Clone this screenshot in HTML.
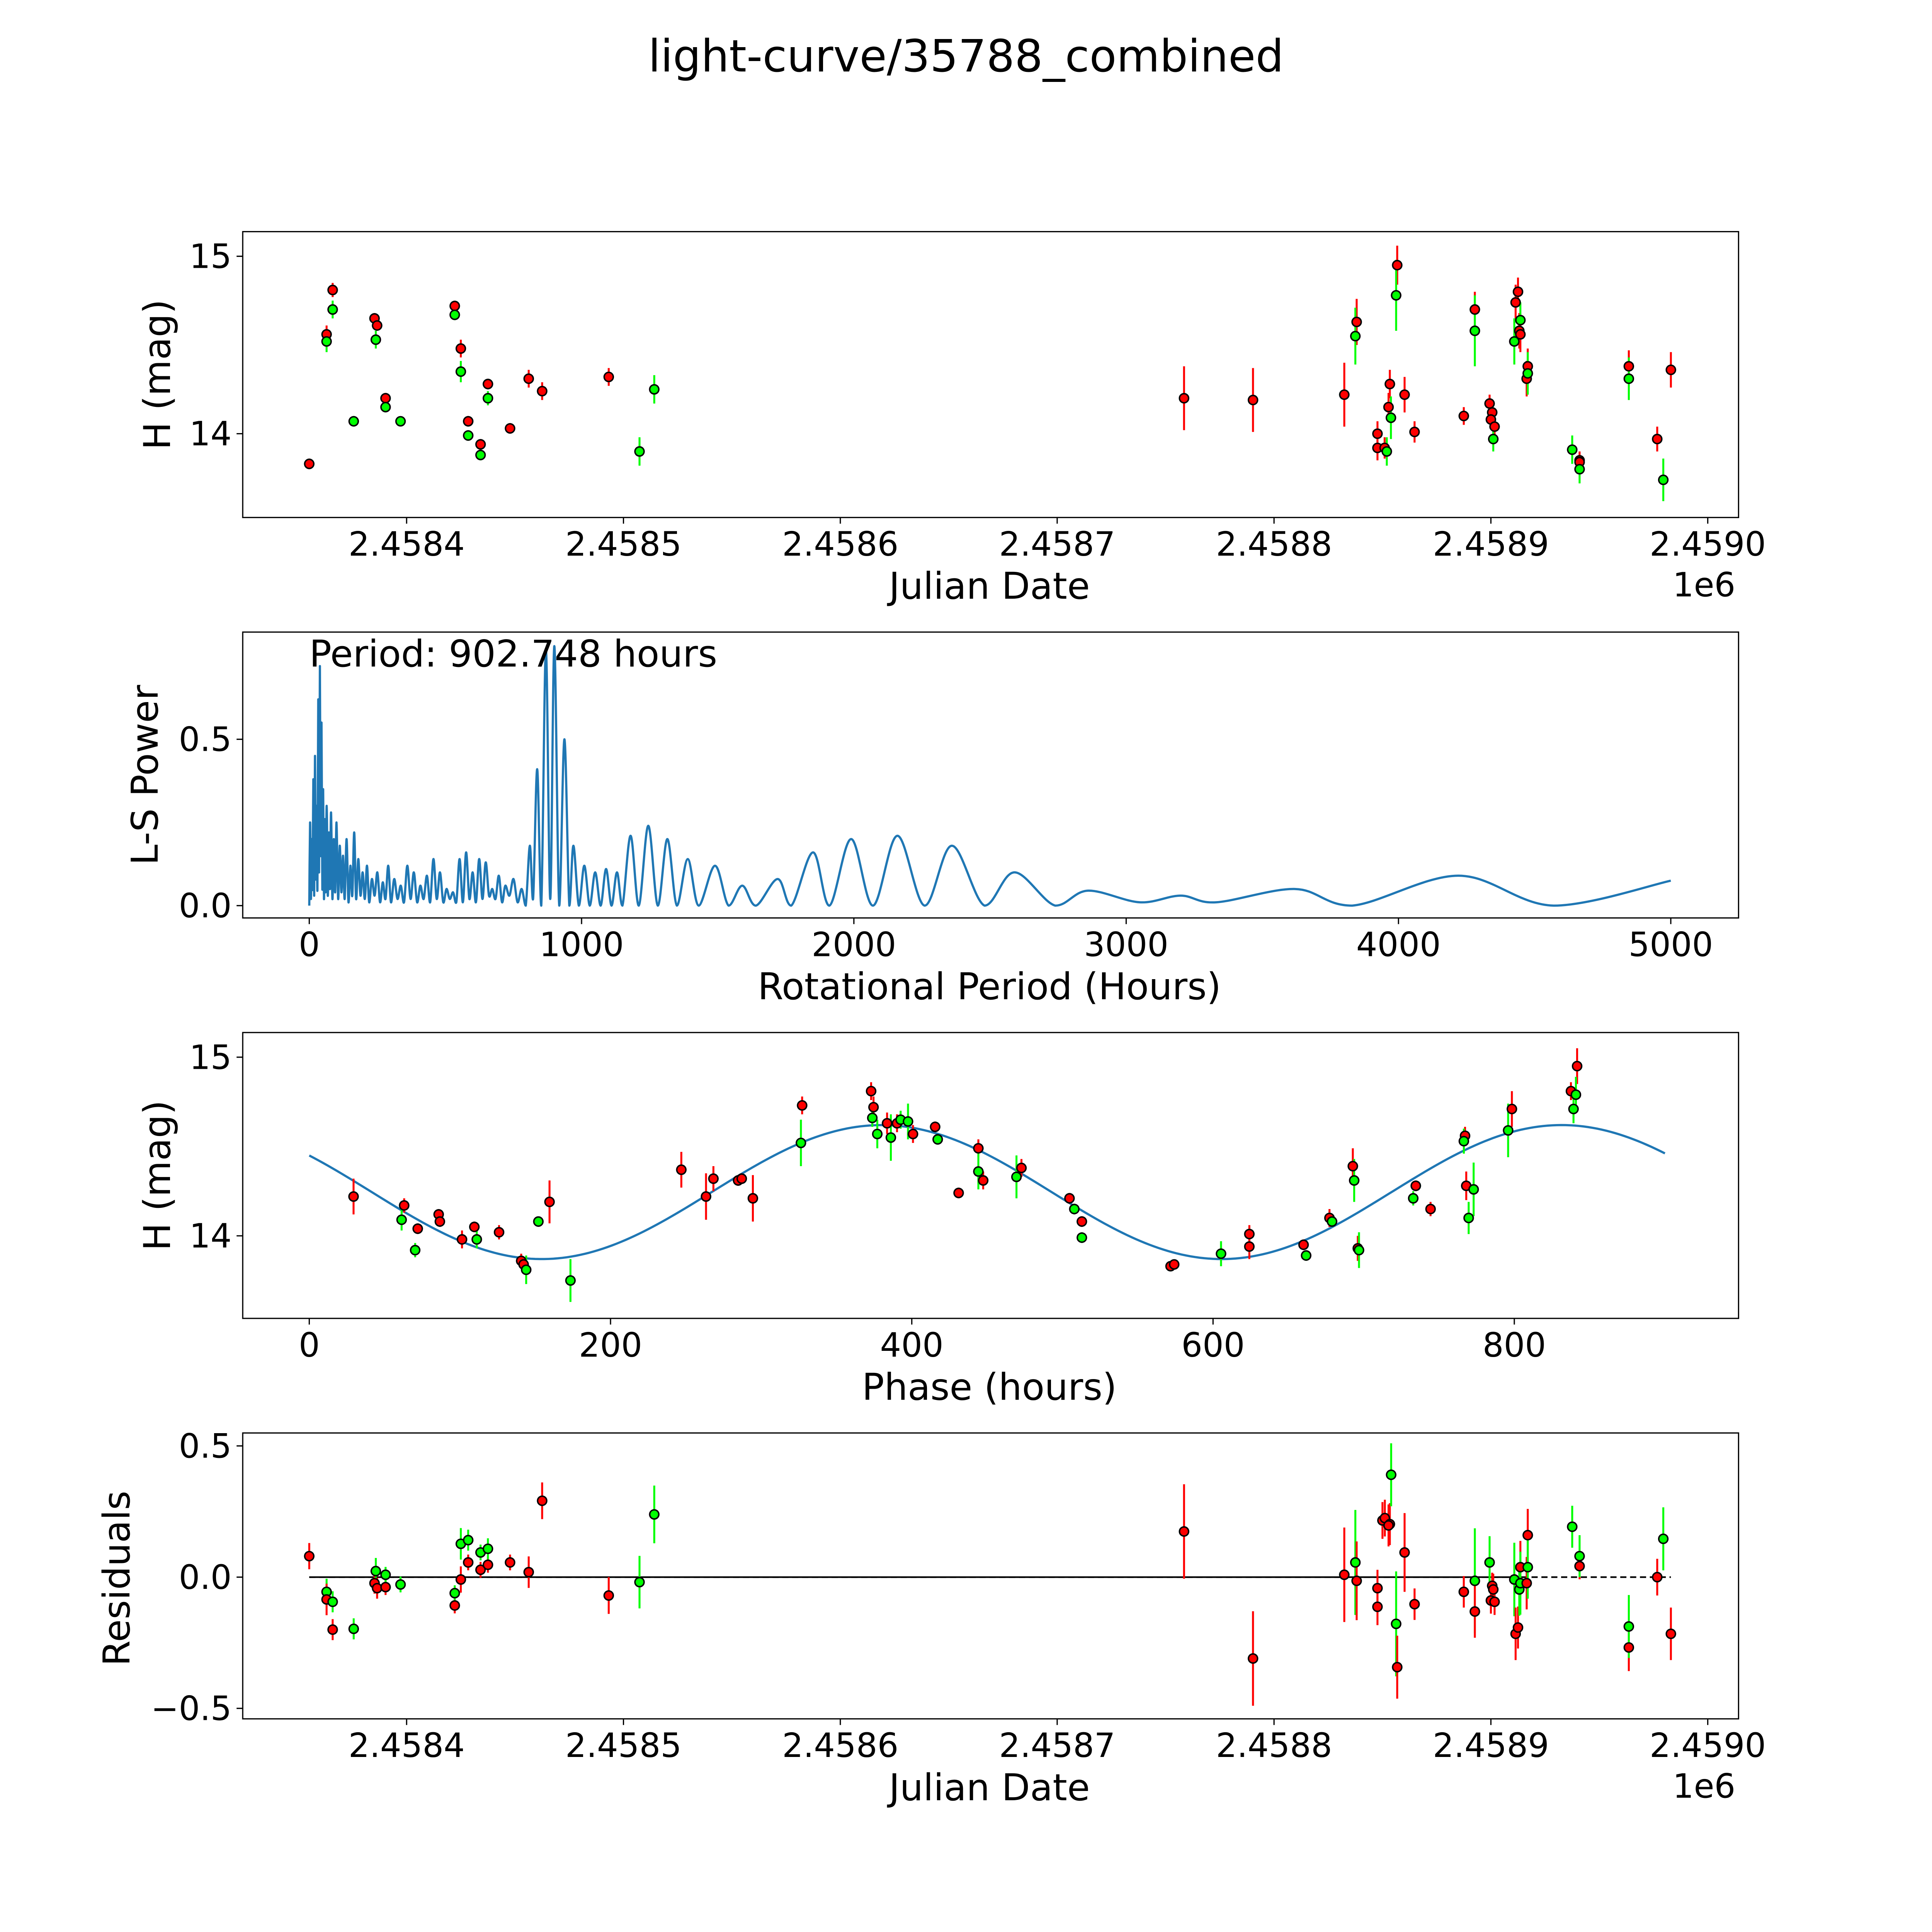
<!DOCTYPE html>
<html><head><meta charset="utf-8">
<style>
html,body{margin:0;padding:0;background:#fff;overflow:hidden;}
svg{display:block;width:100vw;height:100vw;}
text{font-family:"DejaVu Sans","Liberation Sans",sans-serif;fill:#000;}
</style></head>
<body>
<svg id="fig" viewBox="0 0 1568 1568" preserveAspectRatio="xMinYMin meet" xmlns="http://www.w3.org/2000/svg">
<text x="784" y="58" font-size="36" text-anchor="middle">light-curve/35788_combined</text>
</svg>
<script>
// ---------- data ----------
const obsDays = [-44.9,-36.9,-36.9,-34.1,-34.1,-24.4,-14.8,-13.6,-14.2,-9.7,-9.7,-2.8,22.2,22.2,25.0,25.0,28.4,28.4,34.1,34.1,37.5,37.5,47.7,56.3,62.5,93.2,107.4,114.2,358.5,390.3,432.4,438.1,437.5,447.7,447.7,451,452,453.4,452.8,453.9,456.8,456.3,460.2,464.8,487.5,492.6,492.6,499.4,500.6,500,501.7,501.1,511.4,512.5,510.8,513.1,513.6,513.6,517,516.5,517,537.5,540.9,540.9,540.9,563.6,563.6,576.7,579.5,583.0];
const obsMag = [13.83,14.56,14.52,14.81,14.70,14.07,14.65,14.61,14.53,14.20,14.15,14.07,14.72,14.67,14.48,14.35,14.07,13.99,13.94,13.88,14.28,14.20,14.03,14.31,14.24,14.32,13.90,14.25,14.20,14.19,14.22,14.63,14.55,14.00,13.92,13.92,13.90,14.28,14.15,14.09,14.95,14.78,14.22,14.01,14.10,14.70,14.58,14.17,14.12,14.08,14.04,13.97,14.74,14.80,14.52,14.58,14.64,14.56,14.38,14.31,14.34,13.91,13.85,13.84,13.80,14.38,14.31,13.97,13.74,14.36];
const obsErr = [.03,.05,.06,.04,.05,.03,.03,.03,.05,.03,.03,.02,.03,.03,.05,.06,.03,.03,.03,.03,.03,.04,.03,.05,.05,.05,.08,.08,.18,.18,.18,.13,.16,.07,.07,.06,.08,.08,.08,.12,.11,.2,.1,.06,.05,.1,.2,.05,.05,.05,.05,.07,.1,.08,.13,.1,.1,.1,.1,.1,.12,.08,.05,.05,.08,.09,.12,.07,.12,.1];
const obsFilt = ['r','r','g','r','g','g','r','r','g','r','g','g','r','g','r','g','r','g','r','g','r','g','r','r','r','r','g','g','r','r','r','r','g','r','r','r','g','r','r','g','r','g','r','r','r','r','g','r','r','r','r','g','r','r','g','r','g','r','r','r','g','g','r','r','g','r','g','r','g','r'];
const perHours = [0,3,6,9,12,15,18,21,24,27,30,33,36,39,42,45,48,51,54,57,60,64,68,72,76,80,85,90,95,100,106,112,118,124,130,137,144,151,158,165,172,180,188,196,204,212,220,230,240,250,260,270,280,290,300,312,324,336,348,360,372,384,396,408,420,432,444,456,468,480,492,504,516,528,540,552,564,576,588,600,612,624,636,648,660,672,684,696,708,720,735,750,765,780,795,810,822,837,852,869,885,900,918,937,955,970,990,1010,1030,1050,1070,1090,1110,1130,1150,1180,1210,1245,1280,1315,1350,1390,1430,1490,1540,1590,1640,1720,1770,1850,1910,1990,2070,2160,2260,2360,2480,2590,2740,2860,3050,3200,3330,3620,3830,4220,4570,5000];
const lsPower = [0,0.25,0.02,0.2,0.05,0.38,0.03,0.45,0.08,0.3,0.05,0.62,0.1,0.72,0.15,0.55,0.05,0.35,0.02,0.26,0.04,0.3,0.03,0.22,0.05,0.28,0.02,0.2,0.04,0.25,0.02,0.18,0.04,0.15,0.02,0.2,0.01,0.12,0.03,0.22,0.02,0.14,0.03,0.1,0.02,0.12,0.01,0.08,0.03,0.1,0.01,0.07,0.02,0.12,0.01,0.08,0.02,0.06,0.01,0.12,0.02,0.1,0.01,0.06,0.02,0.09,0.01,0.14,0.02,0.1,0.01,0.05,0.02,0.04,0.01,0.14,0.01,0.16,0.02,0.1,0.01,0.14,0.02,0.13,0.03,0.05,0.02,0.09,0.01,0.06,0.03,0.08,0.01,0.05,0.0,0.18,0.02,0.41,0.0,0.77,0.02,0.78,0.0,0.5,0.0,0.18,0.0,0.12,0.0,0.1,0.0,0.11,0.0,0.1,0.0,0.21,0.0,0.24,0.0,0.2,0.0,0.14,0.0,0.12,0.0,0.06,0.0,0.08,0.0,0.16,0.0,0.2,0.0,0.21,0.0,0.18,0.0,0.1,0.0,0.045,0.01,0.03,0.01,0.05,0.0,0.09,0.0,0.075];
const phHours = [29.4,63.0,61.3,72.0,70.3,85.9,86.7,101.4,109.6,111.2,126,140.7,142.3,144,152.1,159.5,173.4,247,263.4,268.3,284.7,287.1,294.5,327.2,326.4,373,374.6,373.8,377.1,383.6,386.1,390.2,392.6,397.5,400.8,415.5,417.2,431.1,444.2,444.2,447.4,472.8,469.5,504.7,507.9,512.9,512.9,571.8,574.2,605.3,624.1,624.1,660.1,661.8,677.3,679,692.8,693.7,696.1,696.9,734.6,732.9,744.4,767.3,766.5,768.1,769.7,773,798.4,795.9,837.6,841.7,839.3,840.9];
const phMag = [14.22,14.17,14.09,14.04,13.92,14.12,14.08,13.98,14.05,13.98,14.02,13.86,13.84,13.81,14.08,14.19,13.75,14.37,14.22,14.32,14.31,14.32,14.21,14.73,14.52,14.81,14.72,14.66,14.57,14.63,14.55,14.63,14.65,14.64,14.57,14.61,14.54,14.24,14.49,14.36,14.31,14.38,14.33,14.21,14.15,14.08,13.99,13.83,13.84,13.90,14.01,13.94,13.95,13.89,14.10,14.08,14.39,14.31,13.93,13.92,14.28,14.21,14.15,14.56,14.53,14.28,14.10,14.26,14.71,14.59,14.81,14.95,14.71,14.79];
const phErr = [.1,.04,.06,.03,.04,.03,.03,.05,.03,.05,.04,.04,.04,.08,.02,.12,.12,.1,.13,.07,.03,.03,.13,.05,.13,.05,.06,.05,.08,.06,.13,.05,.05,.1,.05,.03,.03,.03,.05,.1,.05,.05,.12,.03,.03,.03,.03,.02,.02,.07,.05,.07,.03,.03,.05,.03,.1,.12,.07,.1,.03,.04,.04,.05,.07,.08,.09,.15,.1,.15,.05,.1,.08,.1];
const phFilt = ['r','r','g','r','g','r','r','r','r','g','r','r','r','g','g','r','g','r','r','r','r','r','r','r','g','r','r','g','g','r','g','r','g','g','r','r','g','r','r','g','r','r','g','r','g','r','g','r','r','g','r','r','r','g','r','g','r','g','r','g','r','g','r','r','g','r','g','g','r','g','r','r','g','g'];
const fitParams = [14.245, 0.375, 451.37, 380];
const fitMaxPhase = 902.748;
const resDays = [-44.9,-36.9,-36.9,-34.1,-34.1,-24.4,-14.8,-14.2,-13.6,-9.7,-9.7,-2.8,22.2,22.2,25,25,28.4,28.4,34.1,34.1,37.5,37.5,47.7,56.3,62.5,93.2,107.4,114.2,358.5,390.3,432.4,437.5,438.1,447.7,447.7,450,451.1,453.4,454,452.8,456.3,456.8,460.2,464.8,487.5,492.6,492.6,499.4,500.6,500,501.7,501.1,510.8,511.4,512.5,513.1,513.6,513.6,517,516.5,517,537.5,540.9,540.9,563.6,563.6,576.7,579.5,583];
const resVal = [.08,-.056,-.085,-.094,-.20,-.197,-.023,.023,-.042,-.038,.009,-.028,-.108,-.061,-.009,.127,.056,.141,.028,.094,.047,.108,.056,.019,.291,-.070,-.019,.239,.174,-.31,.009,.056,-.014,-.042,-.113,.216,.225,.202,.39,.197,-.178,-.343,.094,-.103,-.056,-.014,-.131,.056,-.033,-.089,-.094,-.047,-.009,-.216,-.192,-.047,.038,-.023,.16,-.023,.038,.192,.042,.08,-.268,-.188,0,.146,-.216];
const resErr = [.05,.05,.06,.04,.04,.04,.04,.05,.04,.03,.03,.03,.03,.03,.05,.06,.03,.04,.03,.03,.03,.04,.03,.06,.07,.07,.1,.11,.18,.18,.18,.2,.15,.07,.07,.07,.07,.08,.12,.08,.2,.12,.15,.06,.06,.2,.1,.1,.05,.05,.05,.06,.14,.1,.08,.1,.1,.12,.1,.1,.12,.08,.05,.08,.09,.12,.07,.12,.1];
const resFilt = ['r','g','r','g','r','g','r','g','r','r','g','g','r','g','r','g','r','g','r','g','r','g','r','r','r','r','g','g','r','r','r','g','r','r','r','r','r','r','g','r','g','r','r','r','r','g','r','g','r','r','r','r','g','r','r','g','r','g','r','r','g','g','r','g','r','g','r','g','r'];
const jdTicks = [2458400,2458500,2458600,2458700,2458800,2458900,2459000];
const jdTickLabels = ['2.4584','2.4585','2.4586','2.4587','2.4588','2.4589','2.4590'];

// ---------- drawing ----------
const NS='http://www.w3.org/2000/svg';
const svg=document.getElementById('fig');
function el(tag,parent){const e=document.createElementNS(NS,tag);(parent||svg).appendChild(e);return e;}
const L=197,R=1411;
const jdX = d => 330 + d*1.76;
const colors={r:'#ff0000',g:'#00ff00'};
const TF=27, LF=30;

function frame(name,top,bot){
  const g=el('g');
  
  
  const r=el('rect',g);
  
  
  r.setAttribute('x',L);r.setAttribute('y',top);r.setAttribute('width',R-L);r.setAttribute('height',bot-top);
  r.setAttribute('fill','none');r.setAttribute('stroke','#000');r.setAttribute('stroke-width','1');
  return g;
}
function xtick(g,x,bot,label){
  const t=el('line',g);
  
  
  t.setAttribute('x1',x);t.setAttribute('x2',x);t.setAttribute('y1',bot);t.setAttribute('y2',bot+5);t.setAttribute('stroke','#000');
  const tx=el('text',g);
  
  
  tx.setAttribute('x',x);tx.setAttribute('y',bot+31);tx.setAttribute('font-size',TF);tx.setAttribute('text-anchor','middle');
  tx.textContent=label;
}
function ytick(g,y,label){
  const t=el('line',g);
  
  
  t.setAttribute('x1',L-5);t.setAttribute('x2',L);t.setAttribute('y1',y);t.setAttribute('y2',y);t.setAttribute('stroke','#000');
  const tx=el('text',g);
  
  
  tx.setAttribute('x',L-9);tx.setAttribute('y',y+9.5);tx.setAttribute('font-size',TF);tx.setAttribute('text-anchor','end');
  tx.textContent=label;
}
function label(g,name,x,y,txt,rot){
  const tx=el('text',g);
  
  
  tx.setAttribute('x',x);tx.setAttribute('y',y);tx.setAttribute('font-size',LF);tx.setAttribute('text-anchor','middle');
  if(rot) tx.setAttribute('transform','rotate(-90 '+x+' '+y+')');
  tx.textContent=txt;
}
function points(g,xs,ys,es,fs,X,Y){
  for(let i=0;i<xs.length;i++){
    const x=X(xs[i]),c=colors[fs[i]];
    const e=el('line',g);
    
    
    e.setAttribute('x1',x);e.setAttribute('x2',x);e.setAttribute('y1',Y(ys[i]-es[i]));e.setAttribute('y2',Y(ys[i]+es[i]));
    e.setAttribute('stroke',c);e.setAttribute('stroke-width','1.6');
  }
  for(let i=0;i<xs.length;i++){
    const p=el('circle',g);
    
    
    p.setAttribute('cx',X(xs[i]));p.setAttribute('cy',Y(ys[i]));p.setAttribute('r','3.7');
    p.setAttribute('fill',colors[fs[i]]);p.setAttribute('stroke','#000');p.setAttribute('stroke-width','1.2');
  }
}
function offset(g,y){
  const o=el('text',g);
  
  
  o.setAttribute('x',1383);o.setAttribute('y',y);o.setAttribute('font-size',TF);o.setAttribute('text-anchor','middle');o.textContent='1e6';
}

{
  const top=188,bot=420;
  const Y=m=>208+(15-m)*144;
  const g=frame('light-curve-panel',top,bot);
  jdTicks.forEach((t,i)=>xtick(g,jdX(t-2458400),bot,jdTickLabels[i]));
  [15,14].forEach(v=>ytick(g,Y(v),String(v)));
  label(g,'x-axis-title',803,486,'Julian Date');
  offset(g,484);
  label(g,'y-axis-title',138,304,'H (mag)',true);
  points(g,obsDays,obsMag,obsErr,obsFilt,jdX,Y);
}
{
  const top=513,bot=745;
  const X=p=>251+p*0.221, Y=v=>735-v*270;
  const g=frame('periodogram-panel',top,bot);
  [0,1000,2000,3000,4000,5000].forEach(v=>xtick(g,X(v),bot,String(v)));
  [[0,'0.0'],[0.5,'0.5']].forEach(a=>ytick(g,Y(a[0]),a[1]));
  label(g,'x-axis-title',803,811,'Rotational Period (Hours)');
  label(g,'y-axis-title',128,629,'L-S Power',true);
  const pts=perHours.map((p,i)=>[X(p),Y(lsPower[i])]);
  let d='M'+pts[0][0]+','+pts[0][1];
  for(let i=0;i<pts.length-1;i++){
    const p0=pts[Math.max(0,i-1)],p1=pts[i],p2=pts[i+1],p3=pts[Math.min(pts.length-1,i+2)];
    const c1x=p1[0]+(p2[0]-p0[0])/6,c1y=p1[1]+(p2[1]-p0[1])/6;
    const c2x=p2[0]-(p3[0]-p1[0])/6,c2y=p2[1]-(p3[1]-p1[1])/6;
    d+=' C'+c1x.toFixed(2)+','+Math.min(Y(0),c1y).toFixed(2)+' '+c2x.toFixed(2)+','+Math.min(Y(0),c2y).toFixed(2)+' '+p2[0].toFixed(2)+','+p2[1].toFixed(2);
  }
  const path=el('path',g);
  
  
  path.setAttribute('d',d);path.setAttribute('fill','none');path.setAttribute('stroke','#1f77b4');path.setAttribute('stroke-width','1.8');path.setAttribute('stroke-linejoin','round');
  const t=el('text',g);
  
  
  t.setAttribute('x',251);t.setAttribute('y',541);t.setAttribute('font-size',LF);t.textContent='Period: 902.748 hours';
}
{
  const top=838,bot=1070;
  const X=p=>251+p*1.2225, Y=m=>858+(15-m)*145;
  const g=frame('phase-folded-panel',top,bot);
  [0,200,400,600,800].forEach(v=>xtick(g,X(v),bot,String(v)));
  [15,14].forEach(v=>ytick(g,Y(v),String(v)));
  label(g,'x-axis-title',803,1136,'Phase (hours)');
  label(g,'y-axis-title',138,954,'H (mag)',true);
  let d='';
  for(let p=0;p<=fitMaxPhase;p+=3){
    const m=fitParams[0]+fitParams[1]*Math.cos(2*Math.PI*(p-fitParams[3])/fitParams[2]);
    d+=(d?' L':'M')+X(p).toFixed(2)+','+Y(m).toFixed(2);
  }
  const path=el('path',g);
  
  
  path.setAttribute('d',d);path.setAttribute('fill','none');path.setAttribute('stroke','#1f77b4');path.setAttribute('stroke-width','1.8');
  points(g,phHours,phMag,phErr,phFilt,X,Y);
}
{
  const top=1163,bot=1395;
  const Y=v=>1280-v*213;
  const g=frame('residuals-panel',top,bot);
  jdTicks.forEach((t,i)=>xtick(g,jdX(t-2458400),bot,jdTickLabels[i]));
  [[0.5,'0.5'],[0,'0.0'],[-0.5,'\u22120.5']].forEach(a=>ytick(g,Y(a[0]),a[1]));
  label(g,'x-axis-title',803,1461,'Julian Date');
  offset(g,1459);
  label(g,'y-axis-title',105,1281,'Residuals',true);
  const xmin=Math.min(...resDays),xmax=Math.max(...resDays);
  const dl=el('line',g);
  
  
  dl.setAttribute('x1',jdX(xmin));dl.setAttribute('x2',jdX(xmax));dl.setAttribute('y1',Y(0));dl.setAttribute('y2',Y(0));
  dl.setAttribute('stroke','#000');dl.setAttribute('stroke-width','1.3');dl.setAttribute('stroke-dasharray','5,3');
  const sl=el('line',g);
  
  
  sl.setAttribute('x1',jdX(xmin));sl.setAttribute('x2',jdX(517));sl.setAttribute('y1',Y(0));sl.setAttribute('y2',Y(0));
  sl.setAttribute('stroke','#000');sl.setAttribute('stroke-width','1.3');
  points(g,resDays,resVal,resErr,resFilt,jdX,Y);
}
</script>
</body></html>
